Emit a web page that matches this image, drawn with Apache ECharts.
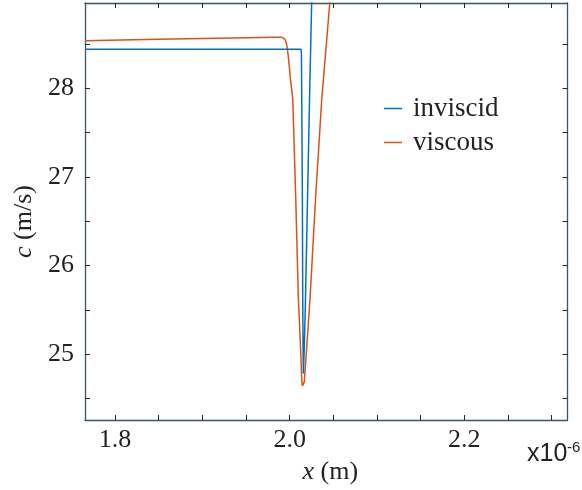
<!DOCTYPE html>
<html>
<head>
<meta charset="utf-8">
<script src="https://cdn.jsdelivr.net/npm/echarts@6/dist/echarts.min.js"></script>
<style>
    html, body { margin: 0; padding: 0; background: #fff; }
    #main { width: 582px; height: 490px; }
</style>
</head>
<body>
<div id="main"></div>
<script>
// x in units of 1e-6 m, c in m/s
var xTicks = [1.8, 1.85, 1.9, 1.95, 2.0, 2.05, 2.1, 2.15, 2.2, 2.25, 2.3];
var xLabels = [1.8, 2.0, 2.2];
var yTicks = [24.5, 25, 25.5, 26, 26.5, 27, 27.5, 28, 28.5];
var yLabels = [25, 26, 27, 28];

var inviscidX = [1.7656, 2.0131, 2.0135, 2.0139, 2.0146, 2.0150, 2.0154, 2.0157, 2.0168, 2.0182, 2.0205, 2.0228, 2.0253, 2.0256];
var inviscidC = [28.443, 28.443, 28.40, 27.88, 26.76, 25.64, 25.07, 24.78, 25.07, 25.64, 26.76, 27.88, 29.00, 29.05];

var viscousX = [1.7656, 1.85, 1.90, 1.95, 1.985, 1.9910, 1.9930, 1.9947, 1.9960, 1.9970, 1.9982, 1.9994, 2.0008, 2.0036, 2.0070, 2.0100, 2.0125, 2.0140, 2.0147, 2.0154, 2.0161, 2.0168, 2.0196, 2.0234, 2.0297, 2.0368, 2.0463, 2.0475];
var viscousC = [28.539, 28.555, 28.565, 28.573, 28.578, 28.579, 28.572, 28.553, 28.52, 28.475, 28.385, 28.27, 28.12, 27.88, 26.758, 25.635, 25.074, 24.686, 24.64, 24.625, 24.64, 24.686, 25.074, 25.635, 26.758, 27.88, 29.002, 29.15];

var xMin = 1.7656, xMax = 2.3183;
var yMin = 24.256, yMax = 28.965;

function pairs(xs, ys) {
    return xs.map(function (x, i) { return [x, ys[i]]; });
}

var serif = 'Liberation Serif';
var frameColor = '#3a5468';
var tickColor = '#262626';

var chart = echarts.init(document.getElementById('main'), null, { renderer: 'canvas' });

function xAxisDef(pos, labels) {
    return {
        type: 'value', position: pos, min: xMin, max: xMax,
        axisLine: { show: true, onZero: false, lineStyle: { color: frameColor, width: 1.3 } },
        axisTick: { show: true, inside: true, length: 5, customValues: xTicks, lineStyle: { color: tickColor, width: 1 } },
        axisLabel: {
            show: labels, customValues: xLabels, margin: 7,
            fontFamily: serif, fontSize: 26, color: '#222',
            formatter: function (v) { return v.toFixed(1); }
        },
        splitLine: { show: false }
    };
}

function yAxisDef(pos, labels) {
    return {
        type: 'value', position: pos, min: yMin, max: yMax,
        axisLine: { show: true, onZero: false, lineStyle: { color: frameColor, width: 1.3 } },
        axisTick: { show: true, inside: true, length: 5, customValues: yTicks, lineStyle: { color: tickColor, width: 1 } },
        axisLabel: {
            show: labels, customValues: yLabels, margin: 11,
            fontFamily: serif, fontSize: 26, color: '#222',
            formatter: function (v) { return String(v); }
        },
        splitLine: { show: false }
    };
}

var bx = xAxisDef('bottom', true);
bx.name = '{i|x} (m)';
bx.nameLocation = 'middle';
bx.nameGap = 39;
bx.nameTextStyle = {
    fontFamily: serif, fontSize: 26, color: '#222', padding: [0, 0, 0, 8],
    rich: { i: { fontFamily: serif, fontStyle: 'italic', fontSize: 26, color: '#222' } }
};

var ly = yAxisDef('left', true);
ly.name = '{i|c} (m/s)';
ly.nameLocation = 'middle';
ly.nameGap = 45;
ly.nameTextStyle = {
    fontFamily: serif, fontSize: 26, color: '#222', padding: [0, 20, 0, 0],
    rich: { i: { fontFamily: serif, fontStyle: 'italic', fontSize: 26, color: '#222' } }
};

var option = {
    animation: false,
    backgroundColor: '#fff',
    grid: { left: 85, right: 14.5, top: 3, bottom: 67, containLabel: false },
    xAxis: [bx, xAxisDef('top', false)],
    yAxis: [ly, yAxisDef('right', false)],
    legend: {
        orient: 'vertical', left: 379, top: 90,
        icon: 'rect', itemWidth: 18, itemHeight: 1.5, itemGap: 7,
        textStyle: { fontFamily: serif, fontSize: 27, color: '#222', padding: [0, 0, 0, 6] },
        data: ['inviscid', 'viscous']
    },
    graphic: [
        { type: 'text', left: 527, top: 442, style: { text: 'x10', font: '25px "Liberation Sans"', fill: '#222' } },
        { type: 'text', left: 567, top: 440, style: { text: '-6', font: '15px "Liberation Sans"', fill: '#222' } }
    ],
    series: [
        {
            name: 'inviscid', type: 'line', xAxisIndex: 0, yAxisIndex: 0,
            data: pairs(inviscidX, inviscidC), showSymbol: false, symbol: 'none',
            lineStyle: { color: '#0072BD', width: 1.5 }, itemStyle: { color: '#0072BD' }, clip: true, z: 3
        },
        {
            name: 'viscous', type: 'line', xAxisIndex: 0, yAxisIndex: 0,
            data: pairs(viscousX, viscousC), showSymbol: false, symbol: 'none',
            lineStyle: { color: '#D95319', width: 1.5 }, itemStyle: { color: '#D95319' }, clip: true, z: 2
        }
    ]
};

chart.setOption(option);
</script>
</body>
</html>
